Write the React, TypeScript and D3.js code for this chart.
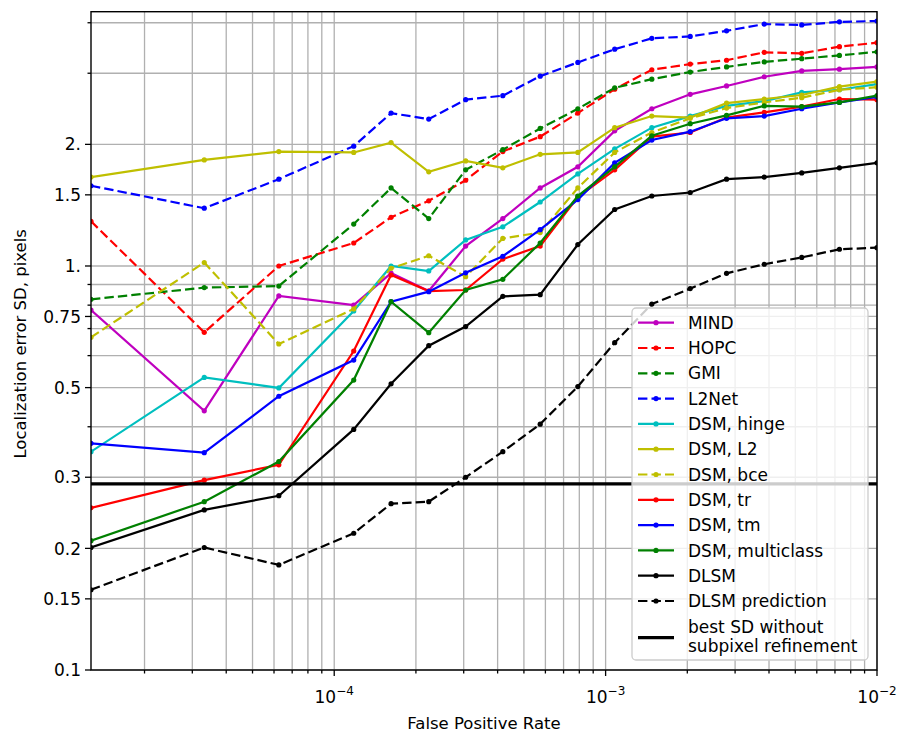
import * as d3 from 'd3';
import React, { useEffect, useRef } from 'react';

// false positive rate at each threshold
const fpr = [1.27e-5, 3.32e-5, 6.25e-5, 1.18e-4, 1.62e-4, 2.23e-4, 3.05e-4, 4.18e-4, 5.74e-4,
  7.9e-4, 1.08e-3, 1.48e-3, 2.05e-3, 2.79e-3, 3.84e-3, 5.28e-3, 7.27e-3, 1.0e-2];

const mind = [0.778, 0.438, 0.843, 0.80, 0.96, 0.867, 1.12, 1.31, 1.56, 1.76, 2.16, 2.45, 2.66, 2.79, 2.94, 3.04, 3.07, 3.11];
const hopc = [1.29, 0.685, 1.0, 1.14, 1.32, 1.45, 1.63, 1.92, 2.09, 2.39, 2.74, 3.06, 3.16, 3.23, 3.38, 3.36, 3.49, 3.57];
const gmi = [0.827, 0.884, 0.892, 1.27, 1.56, 1.31, 1.73, 1.94, 2.19, 2.45, 2.76, 2.90, 3.02, 3.11, 3.20, 3.26, 3.32, 3.39];
const l2net = [1.58, 1.39, 1.64, 1.98, 2.39, 2.31, 2.58, 2.64, 2.95, 3.19, 3.44, 3.66, 3.70, 3.82, 3.97, 3.95, 4.02, 4.04];
const dsmHinge = [0.347, 0.53, 0.499, 0.774, 1.0, 0.972, 1.16, 1.25, 1.44, 1.69, 1.95, 2.20, 2.35, 2.49, 2.56, 2.69, 2.73, 2.82];
const dsmL2 = [1.66, 1.83, 1.92, 1.91, 2.02, 1.71, 1.82, 1.75, 1.89, 1.91, 2.20, 2.35, 2.33, 2.53, 2.59, 2.65, 2.78, 2.86];
const dsmBce = [0.666, 1.02, 0.641, 0.783, 0.987, 1.06, 0.941, 1.17, 1.21, 1.56, 1.91, 2.14, 2.32, 2.46, 2.54, 2.61, 2.73, 2.77];
const dsmTr = [0.252, 0.295, 0.322, 0.616, 0.95, 0.867, 0.872, 1.04, 1.12, 1.48, 1.73, 2.09, 2.14, 2.33, 2.40, 2.48, 2.59, 2.58];
const dsmTm = [0.364, 0.345, 0.476, 0.585, 0.816, 0.864, 0.962, 1.057, 1.23, 1.46, 1.80, 2.05, 2.15, 2.32, 2.35, 2.45, 2.54, 2.62];
const dsmMulti = [0.209, 0.261, 0.328, 0.522, 0.816, 0.684, 0.872, 0.927, 1.14, 1.49, 1.76, 2.10, 2.25, 2.36, 2.49, 2.48, 2.54, 2.64];
const dlsm = [0.201, 0.249, 0.270, 0.394, 0.511, 0.635, 0.708, 0.841, 0.849, 1.13, 1.38, 1.49, 1.52, 1.64, 1.66, 1.70, 1.75, 1.80];
const dlsmPred = [0.158, 0.201, 0.182, 0.218, 0.258, 0.261, 0.30, 0.347, 0.406, 0.503, 0.646, 0.805, 0.879, 0.959, 1.01, 1.05, 1.10, 1.11];
const bestSD = 0.289;

const series = [
  { name: 'MIND', values: mind, color: '#bf00bf', dashed: false },
  { name: 'HOPC', values: hopc, color: '#ff0000', dashed: true },
  { name: 'GMI', values: gmi, color: '#008000', dashed: true },
  { name: 'L2Net', values: l2net, color: '#0000ff', dashed: true },
  { name: 'DSM, hinge', values: dsmHinge, color: '#00bfbf', dashed: false },
  { name: 'DSM, L2', values: dsmL2, color: '#bfbf00', dashed: false },
  { name: 'DSM, bce', values: dsmBce, color: '#bfbf00', dashed: true },
  { name: 'DSM, tr', values: dsmTr, color: '#ff0000', dashed: false },
  { name: 'DSM, tm', values: dsmTm, color: '#0000ff', dashed: false },
  { name: 'DSM, multiclass', values: dsmMulti, color: '#008000', dashed: false },
  { name: 'DLSM', values: dlsm, color: '#000000', dashed: false },
  { name: 'DLSM prediction', values: dlsmPred, color: '#000000', dashed: true },
];

const yMajor = [0.1, 0.15, 0.2, 0.3, 0.5, 0.75, 1, 1.5, 2];
const yMajorLabels = ['0.1', '0.15', '0.2', '0.3', '0.5', '0.75', '1.', '1.5', '2.'];
const yMinor = [0.4, 0.6, 0.7, 0.8, 0.9, 3, 4];
const xMajor = [1e-4, 1e-3, 1e-2];
const xMajorExp = ['\u22124', '\u22123', '\u22122'];

const W = 902, H = 733;
const L = 91, R = 877, T = 11.7, B = 670;
const FONT = 'DejaVu Sans, sans-serif';
const DASH = '9.4,4.1';

export default function App() {
  const ref = useRef<SVGSVGElement>(null);

  useEffect(() => {
    const svg = d3.select(ref.current);
    svg.selectAll('*').remove();

    const x = d3.scaleLog().domain([1.27e-5, 1e-2]).range([L, R]);
    const y = d3.scaleLog().domain([0.1, 4.26]).range([B, T]);

    svg.append('defs').append('clipPath').attr('id', 'plotclip')
      .append('rect').attr('x', L).attr('y', T).attr('width', R - L).attr('height', B - T);

    // x minor positions: 2..9 times each decade inside the domain
    const xMinor: number[] = [];
    [1e-5, 1e-4, 1e-3].forEach(d => {
      for (let k = 2; k <= 9; k++) {
        const v = k * d;
        if (v > 1.27e-5 && v < 1e-2) xMinor.push(v);
      }
    });

    const grid = svg.append('g').attr('stroke', '#b0b0b0').attr('stroke-width', 1.3);
    xMinor.concat(xMajor).forEach(v => {
      grid.append('line').attr('x1', x(v)).attr('x2', x(v)).attr('y1', T).attr('y2', B);
    });
    yMinor.concat(yMajor).forEach(v => {
      grid.append('line').attr('x1', L).attr('x2', R).attr('y1', y(v)).attr('y2', y(v));
    });

    const plot = svg.append('g').attr('clip-path', 'url(#plotclip)');
    const line = d3.line<number>().x((d, i) => x(fpr[i])).y(d => y(d));

    series.forEach(s => {
      plot.append('path')
        .attr('d', line(s.values))
        .attr('fill', 'none')
        .attr('stroke', s.color)
        .attr('stroke-width', 2.2)
        .attr('stroke-dasharray', s.dashed ? DASH : null);
      plot.selectAll(null)
        .data(s.values)
        .enter()
        .append('circle')
        .attr('cx', (d, i) => x(fpr[i]))
        .attr('cy', d => y(d))
        .attr('r', 2.6)
        .attr('fill', s.color);
    });

    plot.append('line')
      .attr('x1', L).attr('x2', R)
      .attr('y1', y(bestSD)).attr('y2', y(bestSD))
      .attr('stroke', '#000').attr('stroke-width', 3.3);

    // frame
    svg.append('rect')
      .attr('x', L).attr('y', T).attr('width', R - L).attr('height', B - T)
      .attr('fill', 'none').attr('stroke', '#000').attr('stroke-width', 1.4);

    // ticks
    const ticks = svg.append('g').attr('stroke', '#000').attr('stroke-width', 1.3);
    xMajor.forEach(v => ticks.append('line').attr('x1', x(v)).attr('x2', x(v)).attr('y1', B).attr('y2', B + 6));
    xMinor.forEach(v => ticks.append('line').attr('x1', x(v)).attr('x2', x(v)).attr('y1', B).attr('y2', B + 3.5));
    yMajor.forEach(v => ticks.append('line').attr('x1', L - 6).attr('x2', L).attr('y1', y(v)).attr('y2', y(v)));
    yMinor.forEach(v => ticks.append('line').attr('x1', L - 3.5).attr('x2', L).attr('y1', y(v)).attr('y2', y(v)));

    const labels = svg.append('g').attr('font-family', FONT).attr('fill', '#000');
    yMajor.forEach((v, i) => {
      labels.append('text')
        .attr('x', L - 10).attr('y', y(v)).attr('dy', '0.36em')
        .attr('text-anchor', 'end').attr('font-size', 17)
        .text(yMajorLabels[i]);
    });
    xMajor.forEach((v, i) => {
      const t = labels.append('text')
        .attr('x', x(v)).attr('y', 703)
        .attr('text-anchor', 'middle').attr('font-size', 17);
      t.append('tspan').text('10');
      t.append('tspan').attr('dy', -8).attr('font-size', 12).text(xMajorExp[i]);
    });

    labels.append('text')
      .attr('x', (L + R) / 2).attr('y', 729)
      .attr('text-anchor', 'middle').attr('font-size', 16.5)
      .text('False Positive Rate');
    labels.append('text')
      .attr('transform', 'translate(26,' + ((T + B) / 2 + 3) + ') rotate(-90)')
      .attr('text-anchor', 'middle').attr('font-size', 16.5)
      .text('Localization error SD, pixels');

    // legend
    const lg = svg.append('g').attr('font-family', FONT);
    lg.append('rect')
      .attr('x', 632).attr('y', 308).attr('width', 236).attr('height', 352)
      .attr('rx', 4)
      .attr('fill', '#fff').attr('fill-opacity', 0.8)
      .attr('stroke', '#cccccc').attr('stroke-width', 1.3);

    series.forEach((s, i) => {
      const yy = 322.7 + i * 25.3;
      lg.append('line')
        .attr('x1', 638).attr('x2', 674).attr('y1', yy).attr('y2', yy)
        .attr('stroke', s.color).attr('stroke-width', 2.2)
        .attr('stroke-dasharray', s.dashed ? DASH : null);
      lg.append('circle').attr('cx', 656).attr('cy', yy).attr('r', 2.6).attr('fill', s.color);
      lg.append('text')
        .attr('x', 688).attr('y', yy).attr('dy', '0.36em')
        .attr('font-size', 17).attr('fill', '#000')
        .text(s.name);
    });
    lg.append('line')
      .attr('x1', 638).attr('x2', 674).attr('y1', 637.7).attr('y2', 637.7)
      .attr('stroke', '#000').attr('stroke-width', 3.3);
    lg.append('text').attr('x', 688).attr('y', 633).attr('font-size', 17).text('best SD without');
    lg.append('text').attr('x', 688).attr('y', 652).attr('font-size', 17).text('subpixel refinement');
  }, []);

  return (
    <svg ref={ref} width={W} height={H}
      style={{ position: 'absolute', left: 0, top: 0, background: '#fff' }} />
  );
}
